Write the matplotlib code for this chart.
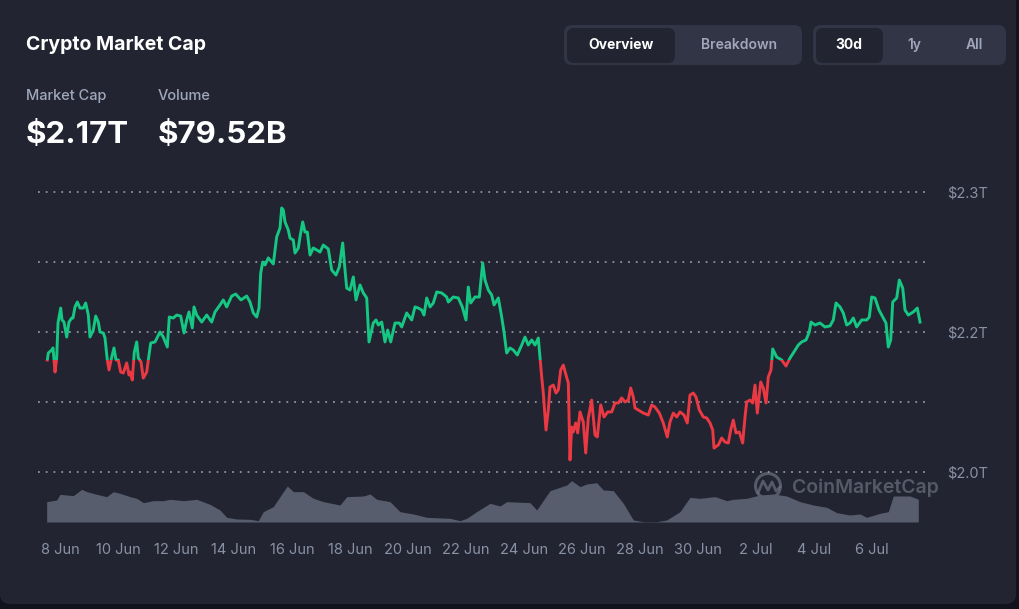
import matplotlib.pyplot as plt
from matplotlib.patches import FancyBboxPatch, Rectangle, Circle

plt.rcParams['font.family'] = ['Inter', 'DejaVu Sans']

# days since 8 Jun (00:00) and total market cap in trillions
day = [-0.438, -0.403, -0.286, -0.241, -0.172, -0.114, -0.069, 0.024, 0.069, 0.138,
       0.231, 0.310, 0.403, 0.448, 0.517, 0.597, 0.690, 0.803, 0.886, 0.976,
       1.034, 1.148, 1.231, 1.321, 1.379, 1.493, 1.552, 1.631, 1.690, 1.783,
       1.862, 1.931, 2.010, 2.093, 2.183, 2.300, 2.379, 2.414, 2.493, 2.562,
       2.645, 2.700, 2.793, 2.872, 2.990, 3.045, 3.128, 3.276, 3.448, 3.562,
       3.700, 3.769, 3.907, 4.024, 4.162, 4.276, 4.369, 4.448, 4.562, 4.621,
       4.714, 4.886, 5.059, 5.231, 5.345, 5.517, 5.631, 5.748, 5.921, 6.059,
       6.241, 6.438, 6.552, 6.666, 6.783, 6.862, 6.921, 6.990, 7.069, 7.183,
       7.355, 7.472, 7.586, 7.645, 7.700, 7.759, 7.872, 7.931, 8.045, 8.103,
       8.217, 8.276, 8.369, 8.448, 8.528, 8.621, 8.734, 8.852, 8.966, 9.079,
       9.252, 9.369, 9.517, 9.631, 9.748, 9.828, 9.886, 10.000, 10.114, 10.207,
       10.345, 10.459, 10.576, 10.655, 10.803, 10.897, 10.976, 11.093, 11.207, 11.300,
       11.403, 11.552, 11.700, 11.783, 11.955, 12.128, 12.241, 12.355, 12.472, 12.552,
       12.645, 12.759, 12.872, 12.990, 13.162, 13.334, 13.390, 13.562, 13.734, 13.872,
       14.000, 14.079, 14.162, 14.310, 14.459, 14.576, 14.655, 14.769, 14.886, 14.966,
       15.114, 15.231, 15.310, 15.403, 15.517, 15.631, 15.769, 15.921, 16.034, 16.148,
       16.266, 16.379, 16.493, 16.552, 16.610, 16.666, 16.759, 16.838, 16.897, 17.010,
       17.103, 17.183, 17.266, 17.355, 17.448, 17.528, 17.586, 17.645, 17.700, 17.783,
       17.852, 17.931, 18.045, 18.128, 18.217, 18.334, 18.448, 18.528, 18.645, 18.759,
       18.886, 19.024, 19.138, 19.252, 19.369, 19.483, 19.597, 19.679, 19.769, 19.828,
       19.941, 20.114, 20.286, 20.403, 20.517, 20.666, 20.803, 20.941, 21.034, 21.148,
       21.266, 21.379, 21.517, 21.631, 21.724, 21.838, 21.931, 22.045, 22.183, 22.300,
       22.414, 22.507, 22.552, 22.700, 22.817, 22.931, 23.045, 23.128, 23.217, 23.310,
       23.424, 23.541, 23.621, 23.679, 23.793, 23.886, 23.966, 24.045, 24.162, 24.252,
       24.345, 24.424, 24.517, 24.576, 24.714, 24.886, 25.034, 25.172, 25.286, 25.459,
       25.576, 25.724, 25.838, 25.897, 26.034, 26.207, 26.379, 26.552, 26.666, 26.759,
       26.897, 27.010, 27.128, 27.241, 27.355, 27.472, 27.645, 27.817, 27.907, 27.990,
       28.103, 28.241, 28.369, 28.483, 28.562, 28.645, 28.714, 28.852, 28.941, 29.059,
       29.138, 29.252, 29.424, 29.562, 29.655]
cap = [2.1800, 2.1850, 2.1871, 2.1886, 2.1714, 2.1814, 2.2064, 2.2171, 2.2086, 2.2071,
       2.1964, 2.2071, 2.2100, 2.2100, 2.2179, 2.2214, 2.2171, 2.2171, 2.2207, 2.2121,
       2.1964, 2.2014, 2.2114, 2.2071, 2.2000, 2.1993, 2.1957, 2.1800, 2.1729, 2.1821,
       2.1886, 2.1800, 2.1800, 2.1714, 2.1707, 2.1779, 2.1693, 2.1714, 2.1657, 2.1857,
       2.1929, 2.1814, 2.1786, 2.1671, 2.1714, 2.1800, 2.1921, 2.1929, 2.2000, 2.1964,
       2.1893, 2.2107, 2.2100, 2.2121, 2.2114, 2.1993, 2.2086, 2.2143, 2.2029, 2.2179,
       2.2121, 2.2071, 2.2121, 2.2071, 2.2143, 2.2193, 2.2229, 2.2179, 2.2257, 2.2271,
       2.2229, 2.2257, 2.2214, 2.2136, 2.2107, 2.2171, 2.2421, 2.2500, 2.2479, 2.2529,
       2.2486, 2.2679, 2.2743, 2.2886, 2.2871, 2.2786, 2.2729, 2.2671, 2.2657, 2.2564,
       2.2600, 2.2679, 2.2786, 2.2714, 2.2714, 2.2550, 2.2600, 2.2586, 2.2571, 2.2621,
       2.2593, 2.2443, 2.2407, 2.2464, 2.2636, 2.2443, 2.2314, 2.2300, 2.2393, 2.2229,
       2.2336, 2.2279, 2.2243, 2.1929, 2.2064, 2.2086, 2.2050, 2.2071, 2.1929, 2.2014,
       2.1929, 2.2064, 2.2064, 2.2036, 2.2136, 2.2086, 2.2179, 2.2171, 2.2157, 2.2121,
       2.2243, 2.2179, 2.2207, 2.2286, 2.2279, 2.2250, 2.2214, 2.2250, 2.2243, 2.2179,
       2.2086, 2.2321, 2.2207, 2.2250, 2.2250, 2.2493, 2.2371, 2.2300, 2.2264, 2.2193,
       2.2243, 2.2107, 2.2000, 2.1850, 2.1886, 2.1871, 2.1836, 2.1907, 2.1964, 2.1907,
       2.1943, 2.1907, 2.1957, 2.1814, 2.1679, 2.1564, 2.1300, 2.1443, 2.1607, 2.1621,
       2.1564, 2.1586, 2.1729, 2.1764, 2.1693, 2.1636, 2.1086, 2.1321, 2.1286, 2.1350,
       2.1279, 2.1429, 2.1357, 2.1136, 2.1386, 2.1514, 2.1264, 2.1250, 2.1479, 2.1393,
       2.1429, 2.1429, 2.1493, 2.1493, 2.1529, 2.1500, 2.1514, 2.1600, 2.1536, 2.1457,
       2.1443, 2.1421, 2.1407, 2.1479, 2.1464, 2.1421, 2.1350, 2.1250, 2.1357, 2.1421,
       2.1393, 2.1429, 2.1407, 2.1350, 2.1550, 2.1564, 2.1536, 2.1443, 2.1393, 2.1386,
       2.1350, 2.1300, 2.1171, 2.1193, 2.1243, 2.1214, 2.1207, 2.1300, 2.1371, 2.1279,
       2.1286, 2.1207, 2.1393, 2.1500, 2.1514, 2.1493, 2.1621, 2.1421, 2.1643, 2.1600,
       2.1493, 2.1679, 2.1729, 2.1879, 2.1821, 2.1800, 2.1757, 2.1814, 2.1850, 2.1907,
       2.1929, 2.1943, 2.2000, 2.2071, 2.2050, 2.2064, 2.2036, 2.2043, 2.2086, 2.2207,
       2.2179, 2.2136, 2.2050, 2.2064, 2.2100, 2.2036, 2.2086, 2.2086, 2.2107, 2.2250,
       2.2243, 2.2157, 2.2107, 2.2064, 2.1893, 2.1943, 2.2214, 2.2243, 2.2371, 2.2314,
       2.2157, 2.2121, 2.2143, 2.2171, 2.2071]

# 24h volume in billions
vol_day = [-0.459, -0.114, 0.0, 0.459, 0.748, 0.921, 1.266, 1.610, 1.838, 2.069,
           2.414, 2.645, 2.872, 3.217, 3.562, 3.793, 4.252, 4.714, 5.172, 5.517,
           5.748, 6.093, 6.552, 6.838, 7.010, 7.355, 7.586, 7.838, 8.045, 8.390,
           8.734, 9.079, 9.655, 9.886, 10.459, 10.690, 10.921, 11.379, 11.724, 12.184,
           12.645, 13.448, 13.793, 14.024, 14.369, 14.828, 15.172, 15.403, 16.207, 16.438,
           16.897, 17.472, 17.645, 17.931, 18.162, 18.507, 18.733, 19.079, 19.424, 19.770,
           20.115, 20.575, 20.920, 21.379, 21.724, 22.069, 22.586, 22.990, 23.219, 23.679,
           24.138, 24.597, 25.058, 25.517, 25.976, 26.438, 26.782, 27.241, 27.586, 27.816,
           28.276, 28.562, 28.734, 29.310, 29.597]
vol = [61, 66, 83, 79, 98, 91, 83, 76, 91, 86,
       76, 71, 58, 64, 64, 68, 64, 68, 53, 36,
       14, 9, 8, 4, 31, 46, 76, 108, 91, 91,
       71, 61, 51, 76, 78, 84, 68, 61, 31, 24,
       14, 11, 4, 11, 31, 56, 48, 61, 58, 36,
       94, 111, 124, 106, 114, 118, 96, 94, 56, 6,
       1, 1, 6, 31, 74, 71, 76, 64, 68, 71,
       81, 84, 78, 61, 51, 44, 28, 21, 24, 14,
       26, 31, 78, 78, 68]

x_ticks = [0, 2, 4, 6, 8, 10, 12, 14, 16, 18, 20, 22, 24, 26, 28]
x_labels = ['8 Jun', '10 Jun', '12 Jun', '14 Jun', '16 Jun', '18 Jun', '20 Jun', '22 Jun',
            '24 Jun', '26 Jun', '28 Jun', '30 Jun', '2 Jul', '4 Jul', '6 Jul']
y_ticks = [2.1, 2.15, 2.2, 2.25, 2.3]
y_labels = ['$2.0T', '', '$2.2T', '', '$2.3T']

BG = '#222531'
GREEN = '#16c784'
RED = '#ea3943'
MUTED = '#a1a7bb'
TICK = '#8a91a5'
PANEL = '#323546'

W, H = 1020, 609
fig = plt.figure(figsize=(W / 100, H / 100), dpi=100, facecolor='#10131c')

# layer in pixel coordinates for the card, header and buttons
bg = fig.add_axes([0, 0, 1, 1])
bg.set_xlim(0, W)
bg.set_ylim(H, 0)
bg.axis('off')
bg.add_patch(FancyBboxPatch((0, -30), 1016, 634, boxstyle='round,pad=0,rounding_size=10',
                            fc=BG, ec='none'))

bg.text(26, 45, 'Crypto Market Cap', color='white', fontsize=14, fontweight='bold', va='center')
bg.text(26, 96, 'Market Cap', color=MUTED, fontsize=10.5, fontweight='medium', va='center')
bg.text(158, 96, 'Volume', color=MUTED, fontsize=10.5, fontweight='medium', va='center')
bg.text(26, 135, '$2.17T', color='white', fontsize=22.5, fontweight='bold', va='center')
bg.text(158, 135, '$79.52B', color='white', fontsize=22.5, fontweight='bold', va='center')

# toggle buttons
bg.add_patch(FancyBboxPatch((564, 25), 238, 40, boxstyle='round,pad=0,rounding_size=8', fc=PANEL, ec='none'))
bg.add_patch(FancyBboxPatch((567, 28), 108, 35, boxstyle='round,pad=0,rounding_size=7', fc=BG, ec='none'))
bg.add_patch(FancyBboxPatch((813, 25), 193, 40, boxstyle='round,pad=0,rounding_size=8', fc=PANEL, ec='none'))
bg.add_patch(FancyBboxPatch((816, 28), 67, 35, boxstyle='round,pad=0,rounding_size=7', fc=BG, ec='none'))
bg.text(621, 45, 'Overview', color='white', fontsize=10, fontweight='bold', ha='center', va='center')
bg.text(739, 45, 'Breakdown', color=MUTED, fontsize=10, fontweight='semibold', ha='center', va='center')
bg.text(849, 45, '30d', color='white', fontsize=10, fontweight='bold', ha='center', va='center')
bg.text(914, 45, '1y', color=MUTED, fontsize=10, fontweight='semibold', ha='center', va='center')
bg.text(974, 45, 'All', color=MUTED, fontsize=10, fontweight='semibold', ha='center', va='center')

# chart
ax = fig.add_axes([38 / W, 1 - 525 / H, (925 - 38) / W, (525 - 180) / H])
ax2 = ax.twinx()
ax.set_zorder(ax2.get_zorder() + 1)
ax.patch.set_visible(False)
ax2.patch.set_visible(False)

ax2.fill_between(vol_day, 0, vol, color='#585d6e', lw=0)
ax2.set_ylim(-9, -9 + 345 * 3)
ax2.set_yticks([])
for s in ax2.spines.values():
    s.set_visible(False)

base = cap[0]
lo, hi = 2.0, 2.4
for color, y0, y1 in [(GREEN, base, hi), (RED, lo, base)]:
    line, = ax.plot(day, cap, color=color, lw=2.1, solid_joinstyle='round')
    clip = Rectangle((-5, y0), 40, y1 - y0, transform=ax.transData)
    line.set_clip_path(clip)

ax.set_xlim((38 - 60) / 29, (925 - 60) / 29)
ax.set_ylim(2.3 - (525 - 192) / 1400, 2.3 + 12 / 1400)
ax.set_yticks(y_ticks)
ax.set_yticklabels(y_labels)
ax.yaxis.tick_right()
ax.grid(axis='y', color='#8f94a3', linestyle=(0, (1, 3.3)), lw=1.3)
ax.set_xticks(x_ticks)
ax.set_xticklabels(x_labels)
ax.tick_params(axis='x', length=0, pad=13, colors=TICK, labelsize=10.5)
ax.tick_params(axis='y', length=0, pad=16, colors=TICK, labelsize=10.5)
for lab in ax.get_yticklabels():
    lab.set_horizontalalignment('left')
for s in ax.spines.values():
    s.set_visible(False)

# watermark
wm = '#6b7080'
bg.add_patch(Circle((768, 486), 12.5, fill=False, ec=wm, lw=2.2, alpha=0.7, zorder=5))
bg.plot([758, 763, 768, 772, 776, 780], [493, 481, 490, 482, 491, 487], color=wm, lw=2,
        alpha=0.7, zorder=5)
bg.set_zorder(-1)
fig.text(792 / W, 1 - 488 / H, 'CoinMarketCap', color=wm, alpha=0.7, fontsize=14,
         fontweight='semibold', va='center', zorder=10)

fig.savefig('out.png', dpi=100, facecolor=fig.get_facecolor())
